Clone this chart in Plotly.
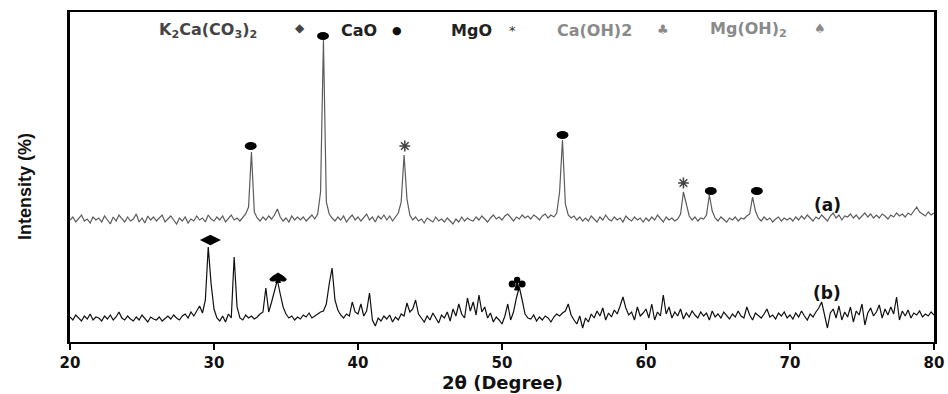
import numpy as np
import plotly.graph_objects as go

# 2-theta sampling grid (0.2 degree step, 20 -> 80)
two_theta = np.round(np.linspace(20, 80, 301), 1)

# Pattern (a): relative intensity (offset trace)
intensity_a = [
    122,125,120,124,127,121,123,119,125,122,
    124,120,126,122,118,125,121,127,123,120,
    125,121,123,128,120,124,119,126,122,125,
    121,124,127,120,123,126,122,118,124,121,
    125,119,123,121,126,122,124,120,127,123,
    121,125,122,126,120,123,127,122,124,121,
    125,128,135,190,130,124,121,125,122,126,
    123,127,133,125,121,124,120,126,122,125,
    122,125,121,124,127,123,128,150,302,140,
    128,124,121,125,122,126,120,124,127,122,
    125,121,124,128,122,125,120,126,123,127,
    122,126,121,125,129,140,187,143,127,122,
    125,121,123,119,124,122,120,125,121,123,
    120,124,121,118,123,120,125,121,124,122,
    121,125,122,126,123,120,124,127,123,125,
    122,126,128,124,121,125,123,127,124,126,
    123,127,125,122,126,128,124,127,125,129,
    150,202,138,127,124,126,122,125,121,124,
    121,126,123,120,125,122,127,123,121,125,
    122,124,120,126,123,121,125,122,124,120,
    124,121,125,122,127,123,120,125,122,124,
    121,123,128,150,138,126,122,125,121,124,
    123,127,147,131,124,121,125,122,120,124,
    122,125,121,124,123,126,128,145,131,124,
    121,125,122,124,120,123,125,121,124,122,
    124,121,125,122,126,123,127,124,121,125,
    123,127,124,121,126,129,124,127,122,126,
    125,128,124,127,123,126,129,125,128,124,
    127,124,128,126,123,127,125,129,126,128,
    125,129,127,131,135,130,128,126,130,127,
    129,
]

# Pattern (b)
intensity_b = [
    25,22,27,24,21,26,23,28,22,25,
    24,21,26,23,27,22,25,30,24,22,
    26,23,21,25,22,27,24,20,25,23,
    22,25,21,24,26,23,27,24,22,26,
    28,24,30,26,31,36,29,42,95,58,
    33,24,21,26,20,28,24,85,35,24,
    22,27,24,26,23,25,28,30,54,30,
    40,52,62,48,35,28,24,26,22,25,
    23,27,25,29,24,26,28,30,31,38,
    58,74,42,32,27,24,28,26,40,30,
    28,38,26,31,49,22,16,24,21,26,
    23,27,20,25,22,28,26,39,30,33,
    42,28,24,20,26,22,29,24,19,27,
    24,30,21,33,26,38,28,24,44,31,
    40,27,47,30,35,24,29,20,25,22,
    18,26,38,22,30,44,55,42,28,24,
    23,27,21,25,22,26,24,20,25,28,
    26,29,31,38,27,22,18,26,14,24,
    20,28,24,31,26,34,22,29,25,32,
    28,36,45,34,27,30,22,35,26,29,
    33,24,38,22,30,26,47,28,35,24,
    30,26,33,23,29,25,31,27,24,30,
    26,29,22,31,25,28,24,30,27,23,
    28,25,31,26,24,35,27,22,29,26,
    24,28,33,25,27,23,29,26,30,24,
    27,23,29,25,31,26,22,28,25,30,
    34,40,26,14,29,33,24,36,22,30,
    25,35,20,31,27,38,17,29,34,26,
    30,37,24,33,27,35,28,45,22,31,
    26,32,24,29,27,31,25,28,26,30,
    27,
]

# Phase markers (peak positions / heights)
cao_x = [32.55, 37.57, 54.2, 64.5, 67.7]
cao_y = [196, 306, 207, 151, 151]
mgo_x = [43.25, 62.6]
mgo_y = [196, 159]
k2ca_x = [29.75]
k2ca_y = [102]
mgoh_x = [34.45]
mgoh_y = [64]
caoh_x = [51.05]
caoh_y = [59]

SPADE = "\u2660\ufe0e"
CLUB = "\u2663\ufe0e"

tick_vals = [20, 30, 40, 50, 60, 70, 80]

fig = go.Figure()
fig.add_trace(go.Scatter(x=two_theta, y=intensity_a, mode="lines",
                         line=dict(color="#5c5c5c", width=1.2), showlegend=False))
fig.add_trace(go.Scatter(x=two_theta, y=intensity_b, mode="lines",
                         line=dict(color="#111111", width=1.2), showlegend=False))

# CaO: horizontal ellipses (pixel-sized, anchored on peak data)
for cx, cy in zip(cao_x, cao_y):
    fig.add_shape(type="circle", xref="x", yref="y", xsizemode="pixel", ysizemode="pixel",
                  xanchor=cx, yanchor=cy, x0=-6, x1=6, y0=-4, y1=4,
                  fillcolor="black", line=dict(width=0), layer="above")

fig.add_trace(go.Scatter(x=mgo_x, y=mgo_y, mode="markers",
                         marker=dict(symbol="asterisk-open", size=9, color="#444",
                                     line=dict(color="#444", width=1.5)), showlegend=False))
fig.add_trace(go.Scatter(x=k2ca_x, y=k2ca_y, mode="markers",
                         marker=dict(symbol="diamond-wide", size=15, color="black"), showlegend=False))

# Mg(OH)2 spade: wide flat spade drawn as a pixel-sized path
spade_path = ("M 0,5 C -3,3 -9,0 -8,-2 C -7,-4 -2,-3 -1,-1.5 L -2.5,-4.5 L 2.5,-4.5 L 1,-1.5 "
              "C 2,-3 7,-4 8,-2 C 9,0 3,3 0,5 Z")
for sx, sy in zip(mgoh_x, mgoh_y):
    fig.add_shape(type="path", xref="x", yref="y", xsizemode="pixel", ysizemode="pixel",
                  xanchor=sx, yanchor=sy, path=spade_path,
                  fillcolor="black", line=dict(color="black", width=1), layer="above")

# Ca(OH)2 club: three lobes + stem
for cx, cy in zip(caoh_x, caoh_y):
    for (ox, oy, r) in [(0, 3, 3.2), (-5, -1, 3.5), (5, -1, 3.5)]:
        fig.add_shape(type="circle", xref="x", yref="y", xsizemode="pixel", ysizemode="pixel",
                      xanchor=cx, yanchor=cy, x0=ox - r, x1=ox + r, y0=oy - r, y1=oy + r,
                      fillcolor="black", line=dict(width=0), layer="above")
    fig.add_shape(type="path", xref="x", yref="y", xsizemode="pixel", ysizemode="pixel",
                  xanchor=cx, yanchor=cy, path="M 0,1 L -2.5,-7 L 2.5,-7 Z",
                  fillcolor="black", line=dict(color="black", width=1), layer="above")

hdr_font = "DejaVu Sans"
def ann(x, y, text, color, size=15):
    fig.add_annotation(x=x, y=y, xref="x", yref="y", text=text, showarrow=False,
                       font=dict(family=hdr_font, size=size, color=color))

# header legend
ann(29.6, 312, "<b>K<sub>2</sub>Ca(CO<sub>3</sub>)<sub>2</sub></b>", "#444", 16)
ann(35.97, 314, "\u25c6", "#444", 12)
ann(40.1, 312, "<b>CaO</b>", "#222", 16)
ann(42.7, 312, "\u25cf", "#111", 11)
ann(47.9, 312, "<b>MgO</b>", "#222", 16)
ann(50.76, 312, "*", "#333", 13)
ann(56.4, 312, "<b>Ca(OH)2</b>", "#8a8a8a", 16)
ann(61.2, 313, CLUB, "#8a8a8a", 13)
ann(67.1, 313, "<b>Mg(OH)<sub>2</sub></b>", "#8a8a8a", 16)
ann(72.1, 314, SPADE, "#8a8a8a", 13)

# series labels
ann(72.6, 137, "<b>(a)</b>", "#111", 17)
ann(72.6, 49, "<b>(b)</b>", "#111", 17)

# axis titles
fig.add_annotation(xref="paper", yref="paper", x=0.5, y=-0.124, yanchor="middle",
                   text="<b>2\u03b8 (Degree)</b>", showarrow=False,
                   font=dict(family="DejaVu Sans", size=18, color="#111"))
fig.add_annotation(xref="paper", yref="paper", x=-0.052, y=0.47, xanchor="center", yanchor="middle",
                   textangle=-90, text="<b>Intensity (%)</b>", showarrow=False,
                   font=dict(family="Liberation Sans Narrow, Liberation Sans", size=18, color="#111"))

fig.update_layout(
    width=948, height=394,
    margin=dict(l=70, r=14, t=12, b=52),
    paper_bgcolor="white", plot_bgcolor="white",
    xaxis=dict(range=[20, 80], tickvals=tick_vals, ticks="outside", ticklen=6, tickwidth=2,
               tickcolor="black", showline=True, linewidth=2, linecolor="black", mirror=True,
               showgrid=False, zeroline=False, automargin=False,
               tickfont=dict(family="DejaVu Sans", size=15, color="#111", weight="bold")),
    yaxis=dict(range=[0, 330], showticklabels=False, ticks="", showline=True, linewidth=3,
               linecolor="black", mirror=True, showgrid=False, zeroline=False, automargin=False),
)

fig.write_html("out.html")
